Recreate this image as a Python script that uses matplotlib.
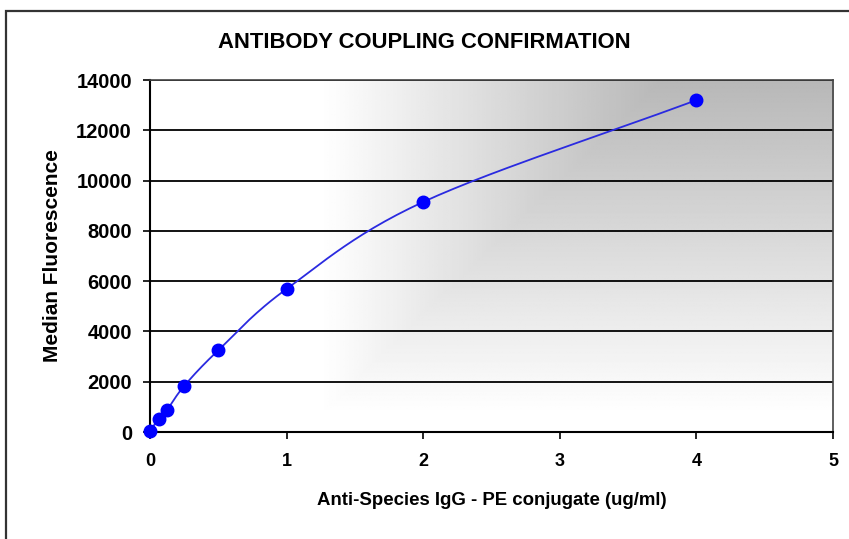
import numpy as np
import matplotlib.pyplot as plt
from matplotlib.patches import Rectangle


conc = [0, 0.0625, 0.125, 0.25, 0.5, 1, 2, 4]
mfi = [50, 520, 880, 1830, 3250, 5690, 9150, 13200]
x_ticks = [0, 1, 2, 3, 4, 5]
y_ticks = [0, 2000, 4000, 6000, 8000, 10000, 12000, 14000]


def smooth_line(xs, ys, n=30):
	"""Catmull-Rom curve through the points, like Excel's smoothed line"""
	p = np.column_stack([xs, ys]).astype(float)
	p = np.vstack([2 * p[0] - p[1], p, 2 * p[-1] - p[-2]])
	out = []
	t = np.linspace(0, 1, n)[:, None]
	for i in range(1, len(p) - 2):
		p0, p1, p2, p3 = p[i - 1], p[i], p[i + 1], p[i + 2]
		seg = 0.5 * ((2 * p1) + (-p0 + p2) * t + (2 * p0 - 5 * p1 + 4 * p2 - p3) * t ** 2
					 + (-p0 + 3 * p1 - 3 * p2 + p3) * t ** 3)
		out.append(seg)
	out = np.vstack(out)
	return out[:, 0], out[:, 1]


plt.rcParams["font.family"] = ["Liberation Sans", "DejaVu Sans"]

fig = plt.figure(figsize=(8.49, 5.39), dpi=100)
ax = fig.add_axes([150 / 849, 1 - 432 / 539, (833 - 150) / 849, (432 - 80) / 539])

# outer frame (cropped at right and bottom like the reference)
fig.patches.append(Rectangle((6 / 849, -0.05), 1.2, 1 - 11 / 539 + 0.05, transform=fig.transFigure,
							 fill=False, edgecolor="#333333", linewidth=1.6))

# "from corner" gradient: white towards left/bottom, grey in the upper-right corner
gx, gy = np.meshgrid(np.linspace(0, 1, 300), np.linspace(0, 1, 300))
gu = np.clip((gx - 0.25) / 0.5, 0, 1)
gv = np.clip((gy - 0.05) / 0.95, 0, 1)
g = np.minimum(gu, gv)
ax.imshow(1 - 0.28 * g, cmap="gray", vmin=0, vmax=1, extent=[0, 5, 0, 14000],
		  origin="lower", aspect="auto", zorder=0)

for yv in y_ticks[1:]:
	ax.axhline(yv, color="black", linewidth=1.3, zorder=1)

sx, sy = smooth_line(conc, mfi)
ax.plot(sx, sy, color="#2a2ae0", linewidth=1.3, zorder=3)
ax.plot(conc, mfi, "o", color="#0000ff", markersize=9, zorder=4, clip_on=False)

ax.set_xlim(0, 5)
ax.set_ylim(0, 14000)
ax.set_xticks(x_ticks)
ax.set_yticks(y_ticks)
ax.set_xticklabels([str(v) for v in x_ticks], fontsize=13, fontweight="bold")
ax.set_yticklabels([str(v) for v in y_ticks], fontsize=14.5, fontweight="bold")
ax.tick_params(axis="x", direction="out", length=5, width=1.2, pad=10)
ax.tick_params(axis="y", direction="out", length=5, width=1.2, pad=8)

for side in ["top", "right"]:
	ax.spines[side].set_color("#444444")
	ax.spines[side].set_linewidth(1.2)
for side in ["left", "bottom"]:
	ax.spines[side].set_color("black")
	ax.spines[side].set_linewidth(1.5)

ax.set_xlabel("Anti-Species IgG - PE conjugate (ug/ml)", fontsize=13.4, fontweight="bold", labelpad=16)
ax.set_ylabel("Median Fluorescence", fontsize=15, fontweight="bold", labelpad=10)
fig.text(0.5, 1 - 43 / 539, "ANTIBODY COUPLING CONFIRMATION", ha="center", va="center",
		 fontsize=15.8, fontweight="bold")

fig.savefig("out.png", dpi=100)
